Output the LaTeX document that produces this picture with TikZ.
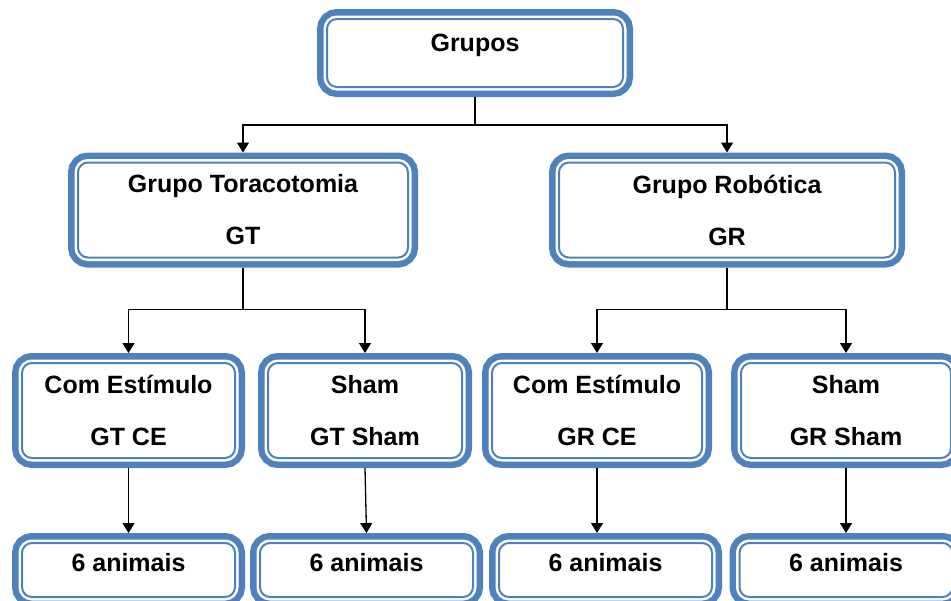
\documentclass[tikz,border=0pt]{standalone}
\usepackage{fontspec}
\setmainfont{Liberation Sans}
\usetikzlibrary{arrows.meta}
\definecolor{boxblue}{RGB}{79,129,189}

\begin{document}
\begin{tikzpicture}[
      x=0.5pt,y=-0.5pt,
      grbox/.style={
        draw=boxblue,
        line width=1pt,
        fill=white,
        rounded corners=5pt,
        inner sep=0pt,
        outer sep=5pt,
        align=center,
        font=\bfseries\fontsize{12.5}{26}\selectfont,
        preaction={draw=boxblue,line width=10pt},
        preaction={draw=white,line width=3.5pt}
      },
      twoline/.style={grbox,minimum height=47.5pt},
      oneline/.style={grbox,text height=14pt,text depth=13pt,minimum width=106.5pt},
      link/.style={-{Triangle[length=5pt,width=6pt]},line width=0.65pt}
    ]
    \useasboundingbox (0,0) rectangle (951,600);

    \node[grbox,minimum width=148pt,text height=16pt,text depth=18pt] (grupos) at (475,53) {Grupos};
    \node[twoline,minimum width=165pt] (gt) at (243,210) {Grupo Toracotomia\\GT};
    \node[twoline,minimum width=168pt] (gr) at (727,210) {Grupo Robótica\\GR};

    \node[twoline,minimum width=106.5pt] (cegt) at (128.5,410.5) {Com Estímulo\\GT CE};
    \node[twoline,minimum width=97pt] (shgt) at (365,410.5) {Sham\\GT Sham};
    \node[twoline,minimum width=105pt] (cegr) at (597,410.5) {Com Estímulo\\GR CE};
    \node[twoline,minimum width=105pt] (shgr) at (846,410.5) {Sham\\GR Sham};

    \node[oneline] (an1) at (128.5,570) {6 animais};
    \node[oneline] (an2) at (366.5,570) {6 animais};
    \node[oneline] (an3) at (605.5,570) {6 animais};
    \node[oneline] (an4) at (846,570) {6 animais};

    \draw[link] (grupos.south) -- ++(0,28) -| (gt.north);
    \draw[link] (grupos.south) -- ++(0,28) -| (gr.north);
    \draw[link] (gt.south) -- ++(0,42) -| (cegt.north);
    \draw[link] (gt.south) -- ++(0,42) -| (shgt.north);
    \draw[link] (gr.south) -- ++(0,42) -| (cegr.north);
    \draw[link] (gr.south) -- ++(0,42) -| (shgr.north);
    \draw[link] (cegt.south) -- (an1.north);
    \draw[link] (shgt.south) -- (an2.north);
    \draw[link] (cegr.south) -- (cegr.south |- an3.north);
    \draw[link] (shgr.south) -- (an4.north);
  \end{tikzpicture}
\end{document}
